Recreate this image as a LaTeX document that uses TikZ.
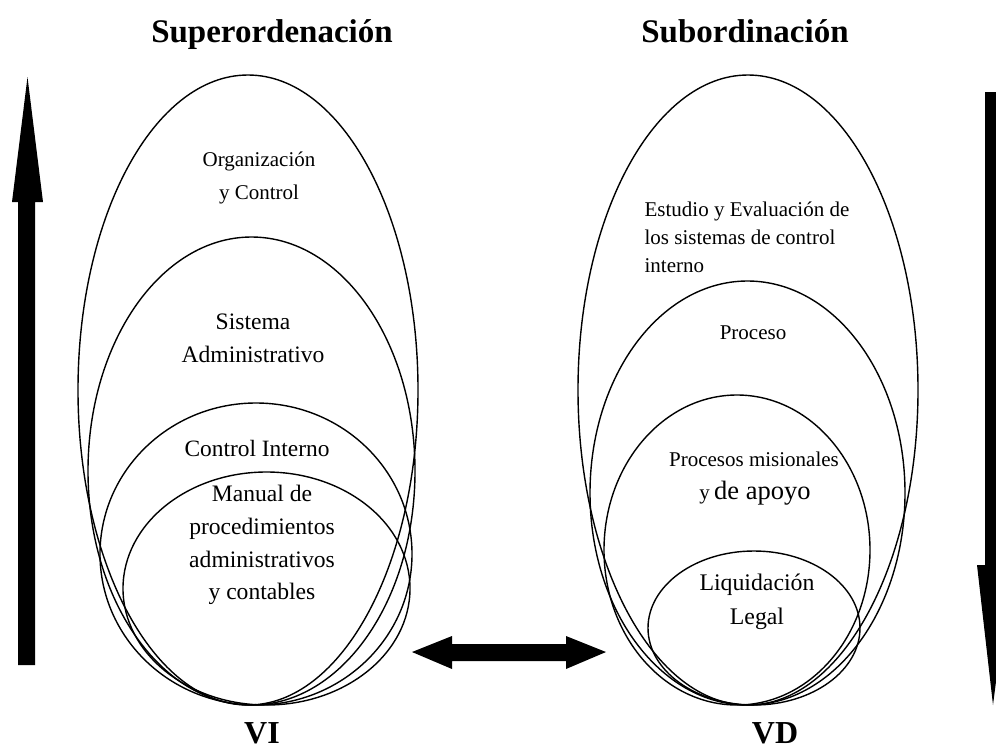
\documentclass[tikz,border=0pt]{standalone}
\usepackage{fontspec}
\setmainfont{Liberation Serif}
\begin{document}
\begin{tikzpicture}[x=1pt,y=-1pt,
  ring/.style={line width=1.4pt},
  lbl/.style={align=center, inner sep=0pt},
  ttl/.style={inner sep=0pt, anchor=base, font=\fontsize{33}{36}\selectfont\bfseries},
  bigarrow/.style={fill=black}]
\useasboundingbox (0,0) rectangle (996,753);
% titles
\node[ttl] (sup) at (272,42) {Superordenación};
\node[ttl] (sub) at (745,42) {Subordinación};
\node[ttl, font=\fontsize{32}{34}\selectfont\bfseries] (vi) at (262,743) {VI};
\node[ttl, font=\fontsize{32}{34}\selectfont\bfseries] (vd) at (775,743) {VD};
% left ellipses
\draw[ring] (248,390) ellipse [x radius=170pt, y radius=315pt];
\draw[ring] (251.5,471) ellipse [x radius=163.5pt, y radius=234pt];
\draw[ring] (256,554) ellipse [x radius=156pt, y radius=151pt];
\draw[ring] (266.5,588.5) ellipse [x radius=143.5pt, y radius=116.5pt];
% right ellipses
\draw[ring] (748,390) ellipse [x radius=170pt, y radius=315pt];
\draw[ring] (747.5,493) ellipse [x radius=157.5pt, y radius=212pt];
\draw[ring] (737,550) ellipse [x radius=133pt, y radius=155pt];
\draw[ring] (754,628) ellipse [x radius=106pt, y radius=77pt];
% left texts
\node[lbl, font=\fontsize{21}{33}\selectfont] (org) at (259,178) {Organización\\y Control};
\node[lbl, font=\fontsize{23.6}{33}\selectfont] (sis) at (253,338) {Sistema\\Administrativo};
\node[lbl, font=\fontsize{23.4}{30}\selectfont] (ci) at (257,448) {Control Interno};
\node[lbl, font=\fontsize{23.6}{32.7}\selectfont] (man) at (262,545) {Manual de\\procedimientos\\administrativos\\y contables};
% right texts
\node[lbl, align=left, font=\fontsize{21}{28}\selectfont] (est) at (747,237) {Estudio y Evaluación de\\los sistemas de control\\interno};
\node[lbl, font=\fontsize{21}{28}\selectfont] (pro) at (753,333) {Proceso};
\node[lbl, font=\fontsize{21}{28}\selectfont] (pm) at (754,459) {Procesos misionales};
\node[lbl] (apo) at (755,493) {{\fontsize{21}{28}\selectfont y}\, {\fontsize{26.5}{32}\selectfont de apoyo}};
\node[lbl, font=\fontsize{23.8}{34}\selectfont] (liq) at (757,602) {Liquidación\\Legal};
% arrows
\fill[bigarrow] (18,202) -- (12,202) -- (27.5,77) -- (43,202) -- (35,202) -- (35,665) -- (18,665) -- cycle;
\fill[bigarrow] (985,92) -- (1003,92) -- (1003,565) -- (1011,565) -- (993,705) -- (977,565) -- (985,565) -- cycle;
\fill[bigarrow] (412,652) -- (452,636) -- (452,644) -- (566,644) -- (566,636) -- (606,652) -- (566,669) -- (566,661) -- (452,661) -- (452,669) -- cycle;
\end{tikzpicture}
\end{document}
